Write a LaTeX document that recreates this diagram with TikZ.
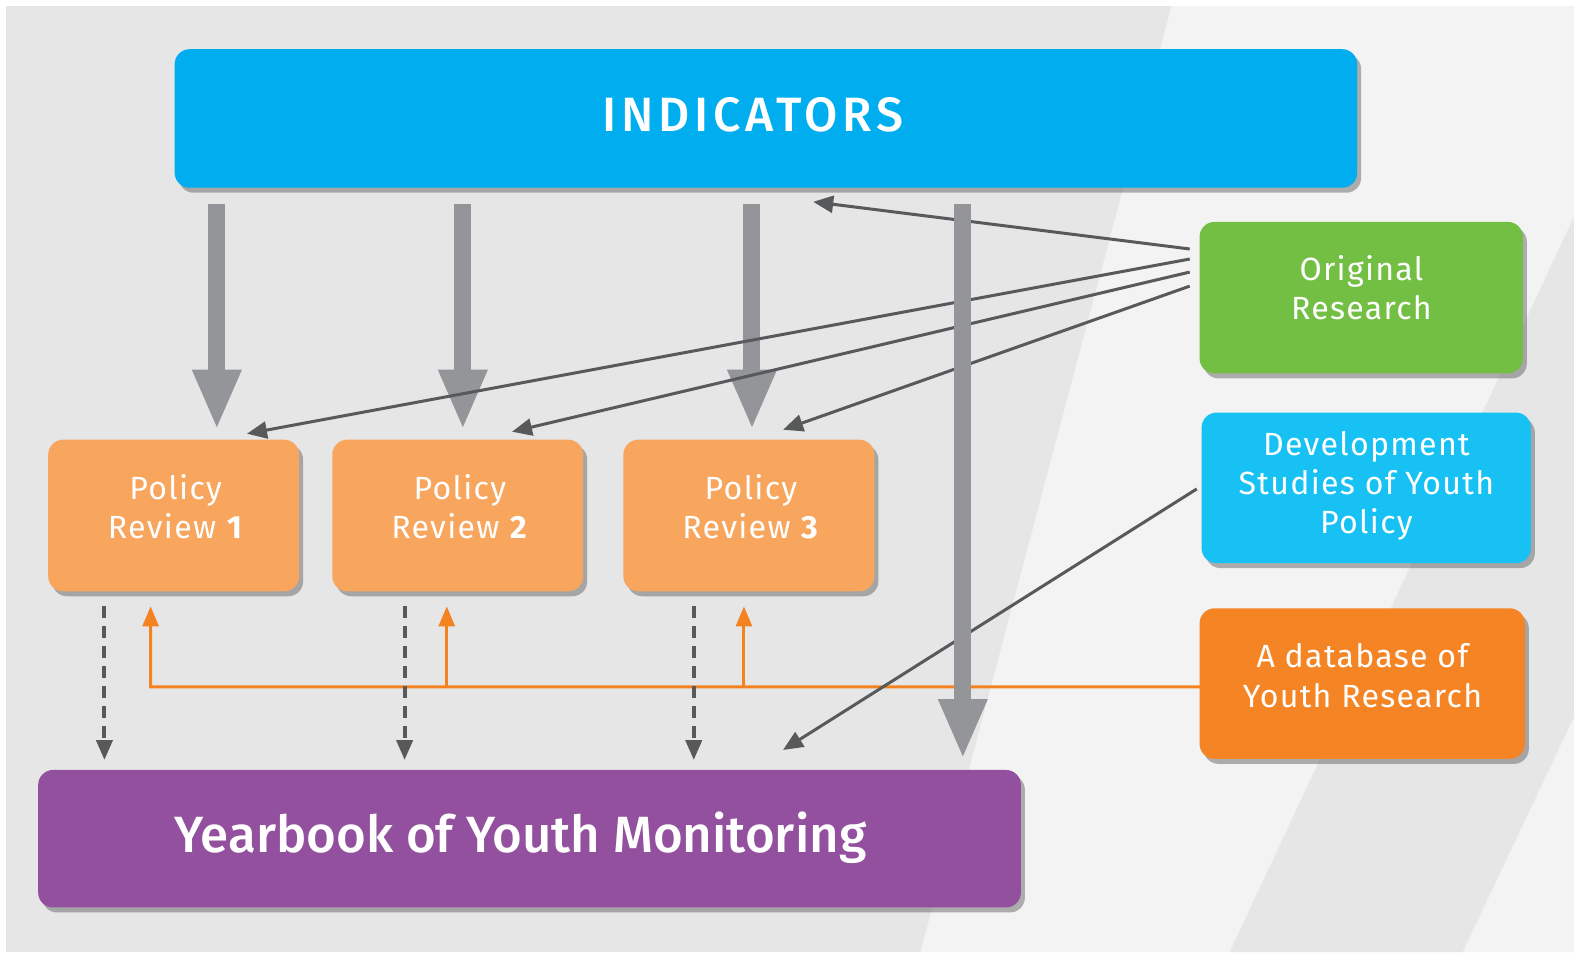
\documentclass[tikz,border=0pt]{standalone}
\usepackage{fontspec}
\setmainfont{Fira Sans}[LetterSpace=4]
\newfontfamily\headfont{Fira Sans Medium}[LetterSpace=10]
\newfontfamily\yearfont{Fira Sans Medium}
\usetikzlibrary{arrows.meta,calc,shadows}

\definecolor{bgdark}{HTML}{E6E6E6}
\definecolor{bglight}{HTML}{F3F3F3}
\definecolor{indblue}{HTML}{00AEEF}
\definecolor{resgreen}{HTML}{72BF44}
\definecolor{devblue}{HTML}{17C1F3}
\definecolor{dborange}{HTML}{F48424}
\definecolor{revorange}{HTML}{F8A55E}
\definecolor{yearpurple}{HTML}{92509F}
\definecolor{fatgray}{HTML}{939598}
\definecolor{linegray}{HTML}{58595B}
\definecolor{feedorange}{HTML}{F58220}

\def\boxfont{\fontsize{16}{19.5}\selectfont}

\tikzset{
	colbox/.style={rectangle, rounded corners=7.5pt, inner sep=0pt, outer sep=0pt, fill=#1,
		drop shadow={shadow xshift=2pt, shadow yshift=-2.5pt, fill=black!60, opacity=0.5}},
	boxtext/.style={text=white, align=center, font=\boxfont},
	fatarrow/.style={draw=fatgray, line width=8.5pt, -{Triangle[width=22.5pt,length=30pt]}},
	thinarrow/.style={draw=linegray, line width=1.5pt, -{Triangle[width=8.5pt,length=10pt]}},
	dasharrow/.style={draw=linegray, line width=2pt, dash pattern=on 6pt off 4pt, -{Triangle[width=8pt,length=10pt]}},
	feedarrow/.style={draw=feedorange, line width=1.5pt, -{Triangle[width=8pt,length=10pt]}},
}

\begin{document}
\begin{tikzpicture}[x=0.5pt, y=-0.5pt, scale=1.00383, transform shape]
		%%%%% START %%%%%
		\useasboundingbox (0,0) rectangle (1568,948.4);
		
		\fill[white] (0,0) rectangle (1568,948.4);
		\fill[bgdark] (6,6) rectangle (1568,948.4);
		\fill[bglight] (1167,6) -- (1568,6) -- (1568,948.4) -- (917,948.4) -- cycle;
		\fill[bgdark] (1568,216) -- (1568,714) -- (1457,948.4) -- (1225,948.4) -- cycle;
		
		\node[colbox=indblue, minimum width=589pt, minimum height=69pt,
			label={[boxtext, font=\headfont\fontsize{24}{28}\selectfont, yshift=2pt, xshift=-6.5pt]center:INDICATORS}] (ind) at (763,118) {};
		
		\node[colbox=resgreen, minimum width=161pt, minimum height=75.5pt,
			label={[boxtext, yshift=5pt]center:Original\\Research}] (orig) at (1356,296.5) {};
		\node[colbox=devblue, minimum width=164pt, minimum height=75pt,
			label={[boxtext, yshift=1pt]center:Development\\Studies of Youth\\Policy}] (dev) at (1361,486) {};
		\node[colbox=dborange, minimum width=162pt, minimum height=75pt,
			label={[boxtext, yshift=4pt]center:A database of\\Youth Research}] (db) at (1357,681) {};
		
		\node[colbox=revorange, minimum width=125pt, minimum height=75.5pt,
			label={[boxtext, yshift=4.5pt, xshift=1pt]center:Policy\\Review \textbf{1}}] (pr1) at (173,513.5) {};
		\node[colbox=revorange, minimum width=125pt, minimum height=75.5pt,
			label={[boxtext, yshift=4.5pt, xshift=1pt]center:Policy\\Review \textbf{2}}] (pr2) at (456,513.5) {};
		\node[colbox=revorange, minimum width=125pt, minimum height=75.5pt,
			label={[boxtext, yshift=4.5pt, xshift=1pt]center:Policy\\Review \textbf{3}}] (pr3) at (746,513.5) {};
		
		\node[colbox=yearpurple, minimum width=489.5pt, minimum height=68.5pt,
			label={[boxtext, font=\yearfont\fontsize{25.4}{30}\selectfont, xshift=-4.5pt, yshift=0.5pt]center:Yearbook of Youth Monitoring}] (year) at (527.5,835.5) {};
		
		% database feeds the reviews
		\coordinate (hub) at ($(pr1.south)+(-23,95)$);
		\draw[feedarrow] (db.west |- hub) -- (hub) -- ($(pr1.south)+(-23,15)$);
		\foreach \p/\dx in {pr2/-11, pr3/-5}
			\draw[feedarrow] ($(\p.south)+(\dx,95)$) -- ($(\p.south)+(\dx,15)$);
		
		% reviews into the yearbook
		\foreach \p/\dx in {pr1/-69, pr2/-53, pr3/-55}
			\draw[dasharrow] ($(\p.south)+(\dx,15)$) -- ($(\p.south |- year.north)+(\dx,-10)$);
		
		\foreach \p/\dx in {pr1/43, pr2/5, pr3/3}
			\draw[fatarrow] ($(ind.south -| \p.north)+(\dx,16)$) -- ($(\p.north)+(\dx,-10)$);
		
		\foreach \dy/\q/\dx/\ey in {27/ind.south/47/14, 37/pr1.north/73/-6, 50/pr2.north/54/-8, 64/pr3.north/34/-10}
			\draw[thinarrow] ($(orig.north west)+(-10,\dy)$) -- ($(\q)+(\dx,\ey)$);
		\draw[thinarrow] ($(dev.west)+(-5,1)$) -- ($(year.north west)+(742,-20)$);
		
		\draw[fatarrow] ($(ind.south -| year.north east)+(-58,16)$) -- ($(year.north east)+(-58,-11)$);
		%%%%% END %%%%%
\end{tikzpicture}
\end{document}
